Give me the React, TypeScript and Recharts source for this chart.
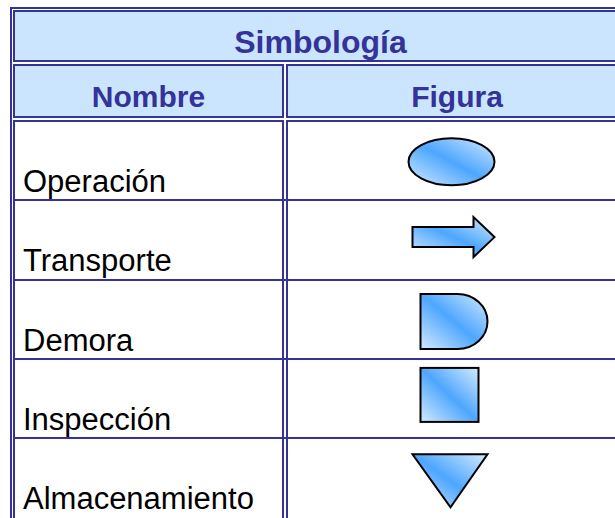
import React from 'react';
import { ScatterChart, Scatter, XAxis, YAxis } from 'recharts';

const titulo = 'Simbología';
const encabezados = ['Nombre', 'Figura'];
const nombres = ['Operación', 'Transporte', 'Demora', 'Inspección', 'Almacenamiento'];
const figuras = ['elipse', 'flecha', 'demora', 'cuadrado', 'triangulo'];

const data = nombres.map((nombre, i) => ({ nombre, columna: encabezados[1], figura: figuras[i] }));

const AZUL = '#333399';
const FONDO = '#cce5ff';
const FONT = '"Liberation Sans", Arial, sans-serif';

// relleno degradado de las figuras
const Degradado = ({ id }: { id: string }) => (
  <defs>
    <linearGradient id={id} x1="0" y1="1" x2="1" y2="0">
      <stop offset="0%" stopColor="#d4eaff" />
      <stop offset="50%" stopColor="#4da6ff" />
      <stop offset="100%" stopColor="#d4eaff" />
    </linearGradient>
  </defs>
);

const Figura = (props: any) => {
  const { cx, cy, payload, index } = props;
  const id = `grad-fig-${index}`;
  const común = { fill: `url(#${id})`, stroke: '#000', strokeWidth: 2 };
  let forma: React.ReactNode = null;
  switch (payload.figura) {
    case 'elipse':
      forma = <ellipse cx={cx + 1} cy={cy + 1} rx={43} ry={23.5} {...común} />;
      break;
    case 'flecha':
      forma = (
        <path
          d={`M${cx - 38},${cy - 13} L${cx + 23},${cy - 13} L${cx + 23},${cy - 23} L${cx + 44},${cy - 3} L${cx + 23},${cy + 17} L${cx + 23},${cy + 7} L${cx - 38},${cy + 7} Z`}
          {...común}
        />
      );
      break;
    case 'demora':
      forma = (
        <path
          d={`M${cx - 30},${cy - 25.5} L${cx + 7},${cy - 25.5} A30 27.5 0 0 1 ${cx + 7},${cy + 29.5} L${cx - 30},${cy + 29.5} Z`}
          {...común}
        />
      );
      break;
    case 'cuadrado':
      forma = <rect x={cx - 30} y={cy - 31} width={58} height={54} {...común} />;
      break;
    case 'triangulo':
      forma = <path d={`M${cx - 38},${cy - 24} L${cx + 37},${cy - 24} L${cx},${cy + 29} Z`} {...común} />;
      break;
  }
  return (
    <g>
      <Degradado id={id} />
      {forma}
    </g>
  );
};

const Etiqueta = ({ y, payload }: any) => (
  <text x={23} y={y + 31} fontSize={31} fontFamily={FONT} fill="#000">
    {payload.value}
  </text>
);

const lineasFilas = [199, 279, 358, 437];

const Marco = () => (
  <svg width={615} height={518} style={{ position: 'absolute', left: 0, top: 0 }}>
    {/* fondos de encabezado */}
    <rect x={13} y={10} width={602} height={52} fill={FONDO} />
    <rect x={13} y={64} width={271} height={54} fill={FONDO} />
    <rect x={286} y={64} width={329} height={54} fill={FONDO} />
    {/* borde exterior */}
    <rect x={10} y={7} width={2} height={511} fill={AZUL} />
    <rect x={10} y={7} width={605} height={2} fill={AZUL} />
    {/* celda título */}
    <rect x={13} y={10} width={602} height={2} fill={AZUL} />
    <rect x={13} y={10} width={2} height={52} fill={AZUL} />
    <rect x={13} y={60} width={602} height={2} fill={AZUL} />
    {/* encabezados */}
    <rect x={13} y={64} width={271} height={2} fill={AZUL} />
    <rect x={13} y={116} width={271} height={2} fill={AZUL} />
    <rect x={286} y={64} width={329} height={2} fill={AZUL} />
    <rect x={286} y={116} width={329} height={2} fill={AZUL} />
    <rect x={13} y={64} width={2} height={54} fill={AZUL} />
    <rect x={282} y={64} width={2} height={54} fill={AZUL} />
    <rect x={286} y={64} width={2} height={54} fill={AZUL} />
    {/* cuerpo */}
    <rect x={13} y={120} width={271} height={2} fill={AZUL} />
    <rect x={286} y={120} width={329} height={2} fill={AZUL} />
    <rect x={13} y={120} width={2} height={398} fill={AZUL} />
    <rect x={282} y={120} width={2} height={398} fill={AZUL} />
    <rect x={286} y={120} width={2} height={398} fill={AZUL} />
    {lineasFilas.map((y) => (
      <rect key={y} x={13} y={y} width={602} height={2} fill={AZUL} />
    ))}
    <g fontFamily={FONT} fontWeight="bold" fill={AZUL} textAnchor="middle">
      <text x={320.5} y={53} fontSize={32}>{titulo}</text>
      <text x={148.5} y={107} fontSize={30}>{encabezados[0]}</text>
      <text x={457} y={107} fontSize={30}>{encabezados[1]}</text>
    </g>
  </svg>
);

export default function App() {
  return (
    <div style={{ position: 'absolute', left: 0, top: 0, width: 615, height: 518, overflow: 'hidden', background: '#fff' }}>
      <Marco />
      <div style={{ position: 'absolute', left: 0, top: 0 }}>
        <ScatterChart width={615} height={518} data={data} margin={{ top: 121, right: 0, bottom: 0, left: 0 }}>
          <XAxis type="category" dataKey="columna" allowDuplicatedCategory={false} hide />
          <YAxis
            type="category"
            dataKey="nombre"
            width={286}
            axisLine={false}
            tickLine={false}
            tick={<Etiqueta />}
            interval={0}
            reversed
          />
          <Scatter data={data} dataKey="columna" shape={<Figura />} isAnimationActive={false} />
        </ScatterChart>
      </div>
    </div>
  );
}
